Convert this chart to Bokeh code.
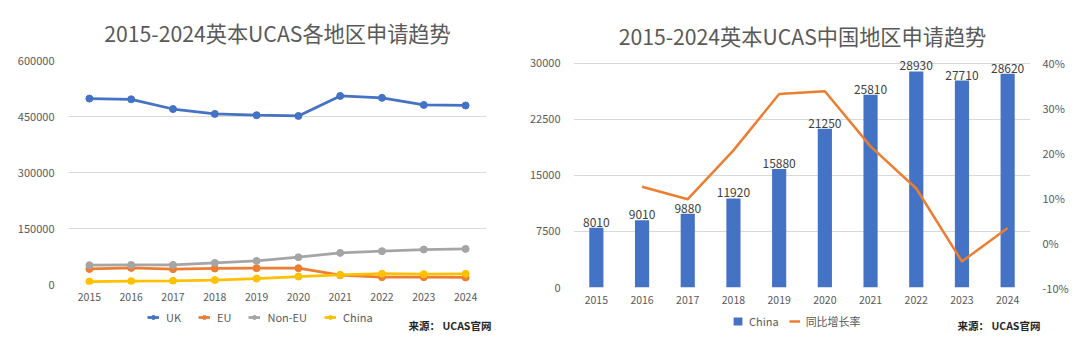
from bokeh.plotting import figure
from bokeh.layouts import row, column
from bokeh.models import (Range1d, FactorRange, FixedTicker, NumeralTickFormatter,
                          PrintfTickFormatter, LinearAxis, Legend, LegendItem, Label,
                          LabelSet, ColumnDataSource)
from bokeh.core.properties import value
from bokeh.embed import file_html
from bokeh.resources import INLINE

# ---------------- data ----------------
years = ["2015", "2016", "2017", "2018", "2019", "2020", "2021", "2022", "2023", "2024"]
uk = [498000, 496000, 470000, 457000, 453500, 451500, 505000, 500000, 481000, 479500]
eu = [41800, 44500, 41000, 42900, 43700, 43700, 24900, 19600, 19600, 18800]
non_eu = [51700, 52500, 52500, 57900, 63200, 73100, 84600, 89200, 93700, 95400]
china = [8010, 9010, 9880, 11920, 15880, 21250, 25810, 28930, 27710, 28620]
growth_years = ["2016", "2017", "2018", "2019", "2020", "2021", "2022", "2023", "2024"]
growth = [12.5, 9.7, 20.6, 33.2, 33.8, 21.5, 12.1, -4.2, 3.3]

left_ticks = [0, 150000, 300000, 450000, 600000]
right_ticks = [0, 7500, 15000, 22500, 30000]
pct_ticks = [-10, 0, 10, 20, 30, 40]

title_left = "2015-2024英本UCAS各地区申请趋势"
title_right = "2015-2024英本UCAS中国地区申请趋势"
source_text = "来源： UCAS官网"

FONT = "Noto Sans CJK SC"
TXT = "#595959"
GRID = "#d9d9d9"
W1, W2 = 515, 565
NAN = float("nan")


def style_axis(ax, size="11px", standoff=8):
    ax.axis_line_color = None
    ax.major_tick_line_color = None
    ax.minor_tick_line_color = None
    ax.major_tick_out = 0
    ax.major_tick_in = 0
    ax.major_label_text_color = TXT
    ax.major_label_text_font = FONT
    ax.major_label_text_font_size = size
    ax.major_label_standoff = standoff


def strip(w, h):
    s = figure(width=w, height=h, x_range=Range1d(0, w), y_range=Range1d(0, h),
               min_border=0, x_axis_location=None, y_axis_location=None,
               title_location=None, output_backend="svg", toolbar_location=None)
    s.outline_line_color = None
    s.grid.visible = False
    return s


def legend(items, x, y, gw, gh, standoff, spacing):
    return Legend(items=items, orientation="horizontal", location=(x, y),
                  label_text_font=FONT, label_text_font_size="11px", label_text_color=TXT,
                  glyph_width=gw, glyph_height=gh, label_height=12, label_width=0,
                  label_standoff=standoff, spacing=spacing, padding=0, margin=0,
                  border_line_color=None, background_fill_alpha=0)


def source_label(x, y):
    return Label(x=x, y=y, x_units="screen", y_units="screen", text=source_text,
                 text_align="left", text_baseline="middle", text_font=FONT,
                 text_font_size="10.5px", text_font_style="bold", text_color="#262626")


# ================= left column =================
t1 = strip(W1, 50)
t1.add_layout(Label(x=277, y=18.5, x_units="screen", y_units="screen", text=title_left,
                    text_align="center", text_baseline="middle", text_font=FONT,
                    text_font_size="21.2px", text_color=TXT))

p1 = figure(x_range=FactorRange(*years), y_range=Range1d(0, 600000),
            width=W1, height=259, title_location=None,
            min_border_left=68, min_border_right=29, min_border_top=10, min_border_bottom=25,
            output_backend="svg", toolbar_location=None)
p1.outline_line_color = None
p1.xgrid.grid_line_color = None
p1.ygrid.grid_line_color = GRID
p1.yaxis.ticker = FixedTicker(ticks=left_ticks)
p1.yaxis.formatter = NumeralTickFormatter(format="0")
style_axis(p1.yaxis[0], size="11px", standoff=14)
style_axis(p1.xaxis[0], size="10.5px", standoff=8)

series = [("UK", uk, "#4472C4"), ("EU", eu, "#ED7D31"),
          ("Non-EU", non_eu, "#A5A5A5"), ("China", china, "#FFC000")]
for name, vals, col in series:
    p1.line(years, vals, line_color=col, line_width=2.75)
    p1.scatter(years, vals, size=7, fill_color=col, line_color=col)

l1 = strip(W1, 43)
items1 = []
for name, vals, col in series:
    a = l1.line(x=[NAN], y=[NAN], line_color=col, line_width=2.75)
    b = l1.scatter(x=[NAN], y=[NAN], size=7, fill_color=col, line_color=col)
    items1.append(LegendItem(label=name, renderers=[a, b]))
l1.add_layout(legend(items1, 147, 27, 12, 10, 7, 17))
l1.add_layout(source_label(408, 27))

# ================= right column =================
t2 = strip(W2, 52)
t2.add_layout(Label(x=287, y=17.5, x_units="screen", y_units="screen", text=title_right,
                    text_align="center", text_baseline="middle", text_font=FONT,
                    text_font_size="21.2px", text_color=TXT))

p2 = figure(x_range=FactorRange(*years), y_range=Range1d(0, 31200),
            width=W2, height=260, title_location=None,
            min_border_left=58, min_border_right=50, min_border_top=2, min_border_bottom=25,
            output_backend="svg", toolbar_location=None)
p2.outline_line_color = None
p2.xgrid.grid_line_color = None
p2.ygrid.grid_line_color = GRID
p2.yaxis.ticker = FixedTicker(ticks=right_ticks)
p2.yaxis.formatter = NumeralTickFormatter(format="0")
style_axis(p2.yaxis[0], size="11px", standoff=13)
style_axis(p2.xaxis[0], size="10.5px", standoff=8)

p2.extra_y_ranges = {"pct": Range1d(-10, 42)}
pax = LinearAxis(y_range_name="pct", ticker=FixedTicker(ticks=pct_ticks),
                 formatter=PrintfTickFormatter(format="%d%%"))
style_axis(pax, size="11px", standoff=12)
p2.add_layout(pax, "right")

src = ColumnDataSource(dict(x=years, top=china, lbl=[str(v) for v in china]))
p2.vbar(x="x", top="top", width=0.31, source=src, fill_color="#4472C4", line_color=None)
p2.line(growth_years, growth, y_range_name="pct", line_color="#ED7D31", line_width=2.5)
p2.add_layout(LabelSet(x="x", y="top", text="lbl", source=src, text_align="center",
                       text_baseline="bottom", y_offset=1, text_font=value(FONT),
                       text_font_size=value("12px"), text_color="#404040"))

l2 = strip(W2, 40)
ra = l2.vbar(x=[NAN], top=[NAN], width=0.31, fill_color="#4472C4", line_color=None)
rb = l2.line(x=[NAN], y=[NAN], line_color="#ED7D31", line_width=2.5)
l2.add_layout(legend([LegendItem(label="China", renderers=[ra]),
                      LegendItem(label="同比增长率", renderers=[rb])],
                     217, 23, 11, 10, 6, 10))
l2.add_layout(source_label(442, 27))

layout = row(column(row(t1), row(p1), row(l1)), column(row(t2), row(p2), row(l2)))
open("out.html", "w").write(file_html(layout, INLINE))
